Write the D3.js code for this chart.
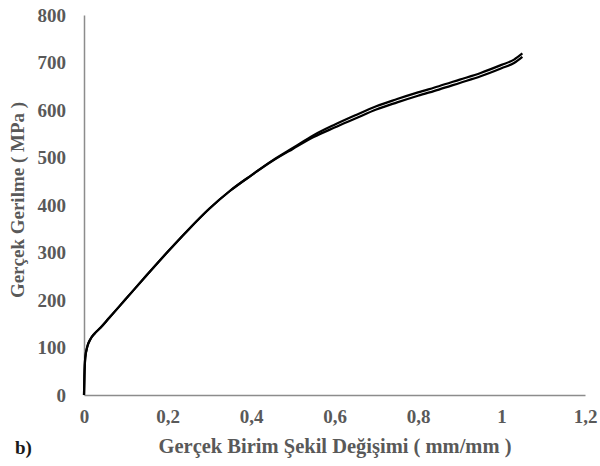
<!DOCTYPE html>
<html>
<head>
<meta charset="utf-8">
<script src="https://cdn.jsdelivr.net/npm/d3@7"></script>
<style>
  html, body { margin: 0; padding: 0; background: #fff; }
  svg { display: block; }
  text { font-family: "Liberation Serif", "Times New Roman", serif; font-weight: bold; }
</style>
</head>
<body>
<script>
// True strain (mm/mm) sample points shared by both test specimens
const strain = [0, 0.001, 0.003, 0.008, 0.015, 0.025, 0.04, 0.06, 0.1, 0.15, 0.2, 0.25, 0.3, 0.35, 0.4, 0.45, 0.5, 0.55, 0.6, 0.65, 0.7, 0.75, 0.8, 0.85, 0.9, 0.95, 1.0, 1.03, 1.05];
// True stress (MPa) for specimen 1 and specimen 2
const stress1 = [0, 40, 78, 102, 117, 129, 142, 162, 202, 252, 301, 348, 392, 430, 462, 493, 520, 547, 569, 589, 608, 623, 637, 650, 664, 678, 695, 706, 719];
const stress2 = [0, 40, 78, 102, 117, 129, 142, 162, 202, 252, 301, 348, 392, 430, 462, 492, 518, 543, 563, 582, 601, 616, 630, 643, 657, 671, 688, 699, 712];

const xTicks = [0, 0.2, 0.4, 0.6, 0.8, 1.0, 1.2];
const yTicks = [0, 100, 200, 300, 400, 500, 600, 700, 800];

const xTitle = "Gerçek Birim Şekil Değişimi ( mm/mm )";
const yTitle = "Gerçek Gerilme ( MPa )";
const panelLabel = "b)";

const W = 600, H = 466;
const svg = d3.select("body").append("svg").attr("width", W).attr("height", H);

const x = d3.scaleLinear().domain([0, 1.2]).range([84, 585]);
const y = d3.scaleLinear().domain([0, 800]).range([395, 15]);

const fmt = d => d === 0 ? "0" : (Number.isInteger(d) ? String(d) : String(d).replace(".", ","));

// Y axis
const yAxis = svg.append("g").attr("transform", `translate(${x(0)},0)`)
  .call(d3.axisLeft(y).tickValues(yTicks).tickSize(0).tickPadding(18).tickFormat(d => d));
yAxis.select(".domain").attr("stroke", "#8c8c8c").attr("stroke-width", 1.5);
yAxis.selectAll("text").attr("fill", "#595959").attr("font-size", 19)
  .style("font-family", '"Liberation Serif", serif').style("font-weight", "bold");

// X axis
const xAxis = svg.append("g").attr("transform", `translate(0,${y(0)})`)
  .call(d3.axisBottom(x).tickValues(xTicks).tickSize(0).tickPadding(15).tickFormat(fmt));
xAxis.select(".domain").attr("stroke", "#8c8c8c").attr("stroke-width", 1.5);
xAxis.selectAll("text").attr("fill", "#595959").attr("font-size", 19)
  .style("font-family", '"Liberation Serif", serif').style("font-weight", "bold");

// Stress–strain curves
const line = d3.line().x(d => x(d[0])).y(d => y(d[1])).curve(d3.curveMonotoneX);
[stress1, stress2].forEach(s => {
  svg.append("path")
    .datum(strain.map((e, i) => [e, s[i]]))
    .attr("fill", "none")
    .attr("stroke", "#000")
    .attr("stroke-width", 2.2)
    .attr("stroke-linejoin", "round")
    .attr("d", line);
});

// Axis titles
svg.append("text")
  .attr("x", 335).attr("y", 453)
  .attr("text-anchor", "middle")
  .attr("fill", "#595959").attr("font-size", 20.5)
  .text(xTitle);

svg.append("text")
  .attr("transform", "translate(24,200) rotate(-90)")
  .attr("text-anchor", "middle")
  .attr("fill", "#595959").attr("font-size", 19)
  .text(yTitle);

// Panel label
svg.append("text")
  .attr("x", 15).attr("y", 454)
  .attr("fill", "#1a1a1a").attr("font-size", 19)
  .text(panelLabel);
</script>
</body>
</html>
